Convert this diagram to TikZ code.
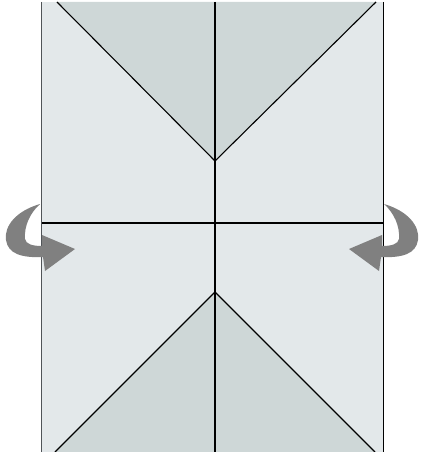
\documentclass[tikz,border=0pt]{standalone}
\usepackage{xcolor}
\usepackage{tikz}
\definecolor{paper}{RGB}{227, 232, 234}
\definecolor{flap}{RGB}{206, 215, 215}
\definecolor{arrowgray}{RGB}{128, 128, 128}
\definecolor{edgegray}{RGB}{80, 84, 88}

\begin{document}
\begin{tikzpicture}[
    x=1pt, y=-1pt,
    fold/.style={draw=black, line width=1.1pt},
    flapfill/.style={fill=flap},
    foldarrow/.pic={
        \fill[arrowgray] (0,0) .. controls (-24,7) and (-36,22) .. (-34,36)
            .. controls (-32,50) and (-18,54) .. (3,53) -- (5,67) -- (35,45) -- (2,31) -- (2,42)
            .. controls (-8,42) and (-14,40) .. (-15,35)
            .. controls (-16,22) and (-10,9) .. (0,0) -- cycle;
    }
]
    \useasboundingbox (0,0) rectangle (425,452);

    % sheet and corners
    \coordinate (tl) at (41,2);
    \coordinate (tr) at (383,2);
    \coordinate (bl) at (41,452);
    \coordinate (br) at (383,452);
    \fill[paper] (tl) rectangle (br);

    \coordinate (topleft) at (57,2);
    \coordinate (topright) at (376,2);
    \coordinate (topapex) at (215,161);
    \coordinate (botleft) at (55,452);
    \coordinate (botright) at (375,452);
    \coordinate (botapex) at (215,292);

    \fill[flapfill] (topleft) -- (topapex) -- (topright) -- cycle;
    \fill[flapfill] (botleft) -- (botapex) -- (botright) -- cycle;

    % folds
    \draw[fold] (topleft) -- (topapex) -- (topright);
    \draw[fold] (botleft) -- (botapex) -- (botright);
    \coordinate (midtop) at (215,2);
    \coordinate (midbot) at (215,452);
    \draw[fold] (midtop) -- (midbot);
    \coordinate (crossl) at (41,223);
    \coordinate (crossr) at (383,223);
    \draw[fold] (crossl) -- (crossr);

    % edges
    \draw[edgegray, line width=1pt] (tl) -- (bl);
    \draw[black, line width=1pt] (tr) -- (br);

    % arrows
    \pic at (40,204) {foldarrow};
    \pic[xscale=-1] at (384,204) {foldarrow};
\end{tikzpicture}
\end{document}
